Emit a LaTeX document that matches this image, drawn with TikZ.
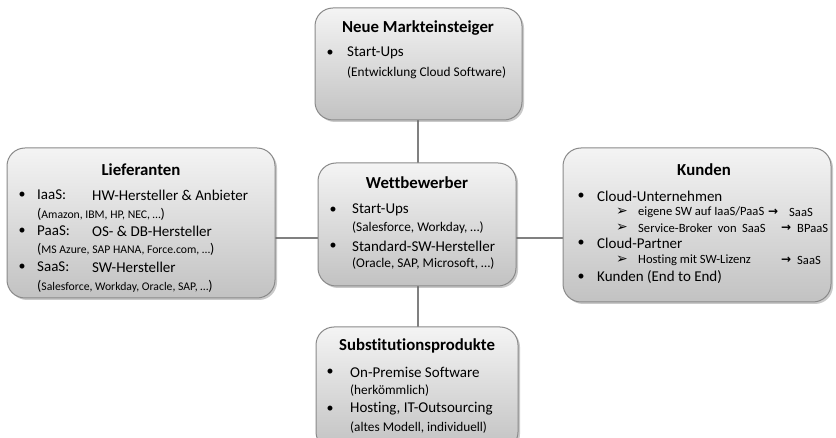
\documentclass[tikz,border=0pt]{standalone}
\usepackage{fontspec}
\setmainfont{Carlito}[Ligatures={NoCommon,TeX}]
\newfontfamily\symfont{DejaVu Sans}
\usetikzlibrary{shadows}
\definecolor{boxtop}{HTML}{F4F4F4}
\definecolor{boxbot}{HTML}{C2C2C2}
\definecolor{boxline}{HTML}{8A8A8A}
\definecolor{conn}{HTML}{808080}
\tikzset{
  forcebox/.style={draw=boxline, line width=1pt, rounded corners=18pt,
    top color=boxtop, bottom color=boxbot, inner sep=0pt,
    drop shadow={shadow xshift=2pt, shadow yshift=-2pt, opacity=0.35, fill=black!60}},
  title/.style={font=\fontsize{16.8}{19}\selectfont\bfseries, anchor=center, inner sep=0pt},
  body/.style={font=\fontsize{15}{17}\selectfont, anchor=west, inner sep=0pt},
  small/.style={font=\fontsize{13.3}{15}\selectfont, anchor=west, inner sep=0pt},
  tiny/.style={font=\fontsize{11.7}{13}\selectfont, anchor=west, inner sep=0pt},
  sub/.style={font=\fontsize{12.6}{14}\selectfont, anchor=west, inner sep=0pt},
  subarrow/.style={font=\symfont\bfseries\fontsize{12}{14}\selectfont, anchor=west, inner sep=0pt},
  tri/.style={font=\symfont\fontsize{14}{15}\selectfont, anchor=center, inner sep=0pt},
  dot/.style={font=\fontsize{14}{16}\selectfont, anchor=center, inner sep=0pt},
  link/.style={draw=conn, line width=2pt}
}
\newcommand{\bp}[1]{{\fontsize{14}{15}\selectfont #1}}
\begin{document}
\begin{tikzpicture}[x=1pt,y=-1pt]
\useasboundingbox[fill=white] (0,0) rectangle (836,438);
% connectors
\draw[link] (418,118) -- (418,165);
\draw[link] (418,284) -- (418,329);
\draw[link] (273,238) -- (320,238);
\draw[link] (514,238) -- (565,238);
% boxes
\path[forcebox] (315,8) rectangle (522,120);
\node[minimum width=207pt, minimum height=112pt, inner sep=0pt] (top) at (418.5,64) {};
\path[forcebox] (318,163) rectangle (516,286);
\node[minimum width=198pt, minimum height=123pt, inner sep=0pt] (mid) at (417,224.5) {};
\path[forcebox] (7,148) rectangle (275,298);
\node[minimum width=268pt, minimum height=150pt, inner sep=0pt] (left) at (141,223) {};
\path[forcebox] (563,148) rectangle (831,302);
\node[minimum width=268pt, minimum height=154pt, inner sep=0pt] (right) at (697,225) {};
\path[forcebox] (316,327) rectangle (518,450);
\node[minimum width=202pt, minimum height=123pt, inner sep=0pt] (bot) at (417,388.5) {};
% top texts
\node[title] (t1) at (418,28) {Neue Markteinsteiger};
\node[dot] (t1b) at (330,53) {•};
\node[body] (t1a) at (347,53) {Start-Ups};
\node[small] (t1c) at (347,73) {(Entwicklung Cloud Software)};
% middle texts
\node[title] (m1) at (417,183) {Wettbewerber};
\node[dot] (m1b) at (333,210) {•};
\node[body] (m1a) at (352,210) {Start-Ups};
\node[small] (m1c) at (352,228) {(Salesforce, Workday, …)};
\node[dot] (m2b) at (333,246) {•};
\node[body] (m2a) at (352,246) {Standard-SW-Hersteller};
\node[small] (m2c) at (352,264) {(Oracle, SAP, Microsoft, …)};
% left texts
\node[title] (l1) at (141,170) {Lieferanten};
\node[dot] (l1b) at (22,195) {•};
\node[body] (l1a) at (37,195) {IaaS:};
\node[body] (l1d) at (92,195) {HW-Hersteller \& Anbieter};
\node[tiny] (l1c) at (37,214) {\bp{(}Amazon, IBM, HP, NEC, …\bp{)}};
\node[dot] (l2b) at (22,231) {•};
\node[body] (l2a) at (37,231) {PaaS:};
\node[body] (l2d) at (92,231) {OS- \& DB-Hersteller};
\node[tiny] (l2c) at (37,249) {\bp{(}MS Azure, SAP HANA, Force.com, …\bp{)}};
\node[dot] (l3b) at (22,267) {•};
\node[body] (l3a) at (37,267) {SaaS:};
\node[body] (l3d) at (92,267) {SW-Hersteller};
\node[tiny] (l3c) at (37,286) {\bp{(}Salesforce, Workday, Oracle, SAP, …\bp{)}};
% right texts
\node[title] (r1) at (704,170) {Kunden};
\node[dot] (r1b) at (581,196) {•};
\node[body] (r1a) at (597,196) {Cloud-Unternehmen};
\node[tri] (r1s1b) at (622,212) {➢};
\node[sub] (r1s1) at (638,212) {eigene SW auf IaaS/PaaS};
\node[subarrow] (r1s1a) at (768,212) {→};
\node[sub] (r1s1x) at (789,212) {SaaS};
\node[tri] (r1s2b) at (622,228) {➢};
\node[sub] (r1s2) at (638,228) {Service-Broker\hspace{2.5pt} von\hspace{2.5pt} SaaS};
\node[subarrow] (r1s2a) at (781,228) {→};
\node[sub] (r1s2x) at (797,228) {BPaaS};
\node[dot] (r2b) at (581,243) {•};
\node[body] (r2a) at (597,243) {Cloud-Partner};
\node[tri] (r2s1b) at (622,260) {➢};
\node[sub] (r2s1) at (638,260) {Hosting mit SW-Lizenz};
\node[subarrow] (r2s1a) at (781,260) {→};
\node[sub] (r2s1x) at (797,260) {SaaS};
\node[dot] (r3b) at (581,277) {•};
\node[body] (r3a) at (597,277) {Kunden (End to End)};
% bottom texts
\node[title] (b1) at (417,346) {Substitutionsprodukte};
\node[dot] (b1b) at (330,372) {•};
\node[body] (b1a) at (350,372) {On-Premise Software};
\node[small] (b1c) at (350,391) {(herkömmlich)};
\node[dot] (b2b) at (330,409) {•};
\node[body] (b2a) at (350,409) {Hosting, IT-Outsourcing};
\node[small] (b2c) at (350,428) {(altes Modell, individuell)};
\end{tikzpicture}
\end{document}
